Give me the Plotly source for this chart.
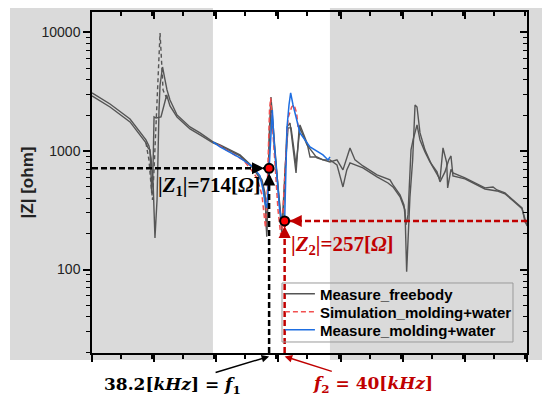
import math
import plotly.graph_objects as go

# ---------------- data (frequency in kHz, |Z| in ohm) ----------------
freebody_f = [21.2, 22.94, 24.87, 25.83, 26.41, 26.70, 26.90, 27.09, 27.28, 27.48, 27.57, 27.67, 27.77, 28.01,
              28.25, 28.44, 28.73, 29.41, 30.66, 31.63, 32.88, 33.56, 35.49, 36.74, 37.61, 37.90, 38.07, 38.19,
              38.29, 38.39, 38.48, 38.87, 39.16, 39.52, 39.74, 40.03, 40.32, 40.61, 40.90, 41.19, 41.28, 41.96,
              42.25, 42.92, 43.50, 43.99, 44.18, 44.85, 45.43, 45.80, 46.11, 47.36, 48.72, 49.78, 50.26, 50.94,
              51.42, 51.58, 51.90, 52.16, 52.39, 52.58, 52.87, 53.35, 53.83, 54.00, 54.80, 55.09, 55.45, 55.54,
              55.86, 56.05, 57.21, 59.14, 59.92, 60.30, 61.07, 61.85, 62.72, 63.01, 63.20]
freebody_z = [3081, 2488, 1860, 1446, 1238, 1102, 873, 570, 185, 387, 1020, 2215, 3597, 5100,
              3963, 3266, 2689, 2011, 1593, 1418, 1191, 1123, 925, 733, 570, 443, 189, 387,
              1238, 2215, 2851, 1020, 469, 204, 387, 1593, 1721, 1100, 653, 1503, 1656, 1168,
              890, 890, 840, 840, 840, 762, 497, 692, 793, 719, 604, 537, 497, 410,
              318, 96, 410, 840, 2440, 2348, 1418, 1020, 840, 762, 575, 1060, 793, 488,
              700, 653, 592, 488, 497, 469, 443, 387, 331, 252, 238]

freebody2_f = [21.2, 22.94, 24.87, 25.83, 26.41, 26.61, 26.80, 26.90, 26.96, 27.09, 27.19, 27.38, 27.86, 28.41,
               28.73, 29.41, 30.66, 31.63, 32.88, 33.56, 35.49, 36.74, 37.61, 37.90, 38.07, 38.19, 38.39, 38.48,
               38.87, 39.32, 39.55, 39.84, 40.13, 40.42, 40.90, 41.28, 41.96, 42.92, 44.18, 44.85, 45.43, 46.11,
               46.59, 47.36, 48.72, 49.97, 50.26, 50.94, 51.32, 51.51, 51.71, 52.00, 52.20, 52.58, 52.87, 53.35,
               53.83, 54.51, 54.80, 55.28, 55.64, 55.86, 56.05, 57.21, 59.14, 60.30, 61.07, 61.85, 62.72, 63.20]
freebody2_z = [2906, 2348, 1755, 1364, 1168, 1060, 1020, 628, 443, 692, 1934, 1897, 1934, 2964,
               2393, 1934, 1532, 1364, 1168, 1102, 908, 719, 548, 410, 208, 469, 1824, 2689,
               925, 387, 225, 692, 1563, 1563, 762, 1563, 1123, 873, 808, 840, 692, 1060,
               840, 747, 628, 570, 517, 426, 351, 238, 289, 1020, 1238, 1656, 1238, 980,
               808, 666, 548, 666, 840, 907, 616, 581, 478, 460, 435, 380, 325, 233]

freebody3_f = [26.41, 26.70, 26.90, 27.04, 27.19, 27.38, 27.57, 27.77, 27.91, 28.06, 28.25, 28.54]
freebody3_z = [1168, 840, 517, 387, 692, 1824, 4813, 9860, 5843, 3266, 2964, 2689]

sim_f = [33.37, 34.52, 35.78, 36.45, 37.13, 37.61, 37.81, 37.95, 38.09, 38.24, 38.34, 38.45, 38.58, 38.87,
         39.16, 39.42, 39.55, 39.74, 39.93, 40.13, 40.48, 40.71, 40.96, 41.09]
sim_z = [1123, 980, 840, 719, 592, 426, 306, 225, 387, 1020, 2215, 2800, 1824, 692,
         318, 196, 216, 469, 1020, 1897, 2348, 2440, 2090, 1593]

meas_f = [32.88, 33.56, 35.49, 36.74, 37.42, 37.71, 37.90, 38.07, 38.19, 38.30, 38.48, 38.61, 38.77, 39.06,
          39.32, 39.52, 39.65, 39.80, 39.93, 40.03, 40.22, 40.38, 40.61, 40.80, 41.28, 42.25, 43.50, 43.99, 44.18]
meas_z = [1191, 1081, 873, 733, 616, 469, 365, 331, 469, 714, 1238, 2215, 1238, 570,
          318, 262, 245, 257, 692, 1593, 2440, 3081, 2440, 2090, 1418, 1081, 925, 840, 890]

point_f = [38.3, 39.8]
point_z = [714, 257]

x_range = [21.2, 63.2]
z_range = [19.8, 14830]

series_names = ["Measure_freebody", "Simulation_molding+water", "Measure_molding+water"]

GRAY = "rgb(85,85,85)"
RED_SIM = "rgb(242,80,80)"
BLUE = "rgb(30,110,225)"
DARKRED = "#C00000"

fig = go.Figure()

fig.add_trace(go.Scatter(x=freebody_f, y=freebody_z, mode="lines", name=series_names[0], legend="legend",
                         line=dict(color=GRAY, width=1.4)))
fig.add_trace(go.Scatter(x=freebody2_f, y=freebody2_z, mode="lines", showlegend=False,
                         line=dict(color=GRAY, width=1.4)))
fig.add_trace(go.Scatter(x=freebody3_f, y=freebody3_z, mode="lines", showlegend=False,
                         line=dict(color=GRAY, width=1.4, dash="4px,3px")))
fig.add_trace(go.Scatter(x=sim_f, y=sim_z, mode="lines", name=series_names[1], legend="legend2",
                         line=dict(color=RED_SIM, width=1.5, dash="5px,3px")))
fig.add_trace(go.Scatter(x=meas_f, y=meas_z, mode="lines", name=series_names[2], legend="legend3",
                         line=dict(color=BLUE, width=1.5)))


def guide(xs, ys, color):
    fig.add_trace(go.Scatter(x=xs, y=ys, mode="lines", showlegend=False,
                             line=dict(color=color, width=2.5, dash="6px,3px")))


guide([x_range[0], point_f[0]], [point_z[0], point_z[0]], "black")
guide([point_f[0], point_f[0]], [z_range[0], point_z[0]], "black")
guide([x_range[1], point_f[1]], [point_z[1], point_z[1]], DARKRED)
guide([point_f[1], point_f[1]], [z_range[0], point_z[1]], DARKRED)

fig.add_trace(go.Scatter(x=point_f, y=point_z, mode="markers", showlegend=False,
                         marker=dict(color="red", size=9, line=dict(color="black", width=2))))

# dummy trace for the mirrored top/right axes
fig.add_trace(go.Scatter(x=[], y=[], xaxis="x2", yaxis="y2", showlegend=False))

ylog = [math.log10(z_range[0]), math.log10(z_range[1])]
tickfont = dict(family="Liberation Sans, Arial", size=14, color="#222")
legfont = dict(family="Liberation Sans, Arial", size=15, color="black", weight="bold")


def leg(yc):
    return dict(x=0.432, y=yc, xanchor="left", yanchor="middle", bgcolor="rgba(0,0,0,0)",
                borderwidth=0, font=legfont)


fig.update_layout(
    width=542, height=391,
    margin=dict(l=84, r=23, t=4, b=46, autoexpand=False),
    paper_bgcolor="white", plot_bgcolor="rgba(0,0,0,0)",
    showlegend=True,
    legend=leg(0.173), legend2=leg(0.1202), legend3=leg(0.0674),
    xaxis=dict(range=x_range, showgrid=False, zeroline=False, showline=True, linecolor="black", linewidth=1.5,
               ticks="outside", ticklen=7, tickwidth=1.5, tickcolor="black", tick0=x_range[0], dtick=6,
               showticklabels=False, automargin=False,
               minor=dict(ticks="outside", ticklen=4, tickwidth=1.5, tickcolor="black", dtick=3, showgrid=False)),
    yaxis=dict(type="log", range=ylog, showgrid=False, zeroline=False, showline=True, linecolor="black",
               linewidth=1.5, ticks="outside", ticklen=7, tickwidth=1.5, tickcolor="black", dtick=1,
               tickformat="d", tickfont=tickfont, automargin=False,
               title=dict(text="|Z| [ohm]", font=dict(family="Liberation Sans, Arial", size=17, color="#222",
                                                     weight="bold"), standoff=4),
               minor=dict(ticks="outside", ticklen=4, tickwidth=1.2, tickcolor="black", dtick="D1", showgrid=False)),
    xaxis2=dict(overlaying="x", side="top", range=x_range, showgrid=False, zeroline=False, showline=True,
                linecolor="black", linewidth=1.5, ticks="inside", ticklen=7, tickwidth=1.5, tickcolor="black",
                tick0=x_range[0], dtick=6, showticklabels=False, automargin=False,
                minor=dict(ticks="inside", ticklen=4, tickwidth=1.5, tickcolor="black", dtick=3, showgrid=False)),
    yaxis2=dict(overlaying="y", side="right", type="log", range=ylog, showgrid=False, zeroline=False,
                showline=True, linecolor="black", linewidth=1.5, ticks="inside", ticklen=7, tickwidth=1.5,
                tickcolor="black", dtick=1, showticklabels=False, automargin=False,
                minor=dict(ticks="inside", ticklen=4, tickwidth=1.2, tickcolor="black", dtick="D1", showgrid=False)),
    shapes=[
        dict(type="rect", xref="paper", yref="paper", x0=-0.1885, x1=0.278, y0=-0.0205, y1=1.0205,
             fillcolor="#dadada", line=dict(width=0), layer="below"),
        dict(type="rect", xref="paper", yref="paper", x0=0.547, x1=1.037, y0=-0.0205, y1=1.0205,
             fillcolor="#dadada", line=dict(width=0), layer="below"),
        # legend frame
        dict(type="rect", xref="paper", yref="paper", x0=0.4368, x1=0.9678, y0=0.0323, y1=0.2053,
             fillcolor="rgba(0,0,0,0)", line=dict(color="#9a9a9a", width=1), layer="above"),
    ],
)

zfont = dict(family="Liberation Serif, DejaVu Serif", size=21, weight="bold")
ffont = dict(family="DejaVu Serif, Liberation Serif", size=17, weight="bold")


def head(fx, zv, ax, ay, color):
    return dict(x=fx, y=math.log10(zv), xref="x", yref="y", ax=ax, ay=ay, text="", showarrow=True,
                arrowhead=2, arrowsize=1.1, arrowwidth=2.2, arrowcolor=color, standoff=5)


ann = [
    head(point_f[0], point_z[0], -12, 0, "black"),
    head(point_f[0], point_z[0], 0, 12, "black"),
    head(point_f[1], point_z[1], 12, 0, DARKRED),
    head(point_f[1], point_z[1], 0, 12, DARKRED),
    dict(x=0.269, y=0.49, xref="paper", yref="paper", showarrow=False, xanchor="center", yanchor="middle",
         text="|<i>Z</i><sub>1</sub>|=714[<i>Ω</i>]", font=dict(color="black", **zfont)),
    dict(x=0.575, y=0.317, xref="paper", yref="paper", showarrow=False, xanchor="center", yanchor="middle",
         text="|<i>Z</i><sub>2</sub>|=257[<i>Ω</i>]", font=dict(color=DARKRED, **zfont)),
    dict(x=point_f[0], y=-0.01, xref="x", yref="paper", showarrow=True, ax=-97, ay=29,
         xanchor="center", yanchor="middle", arrowhead=2, arrowsize=1, arrowwidth=1.5, arrowcolor="black",
         text="38.2[<i>kHz</i>] = <i>f</i><sub>1</sub>", font=dict(color="black", **ffont)),
    dict(x=point_f[1], y=-0.01, xref="x", yref="paper", showarrow=True, ax=88, ay=28,
         xanchor="center", yanchor="middle", arrowhead=2, arrowsize=1, arrowwidth=1.5, arrowcolor=DARKRED,
         text="<i>f</i><sub>2</sub> = 40[<i>kHz</i>]", font=dict(color=DARKRED, **ffont)),
]
fig.update_layout(annotations=ann)

fig.write_html("out.html")
